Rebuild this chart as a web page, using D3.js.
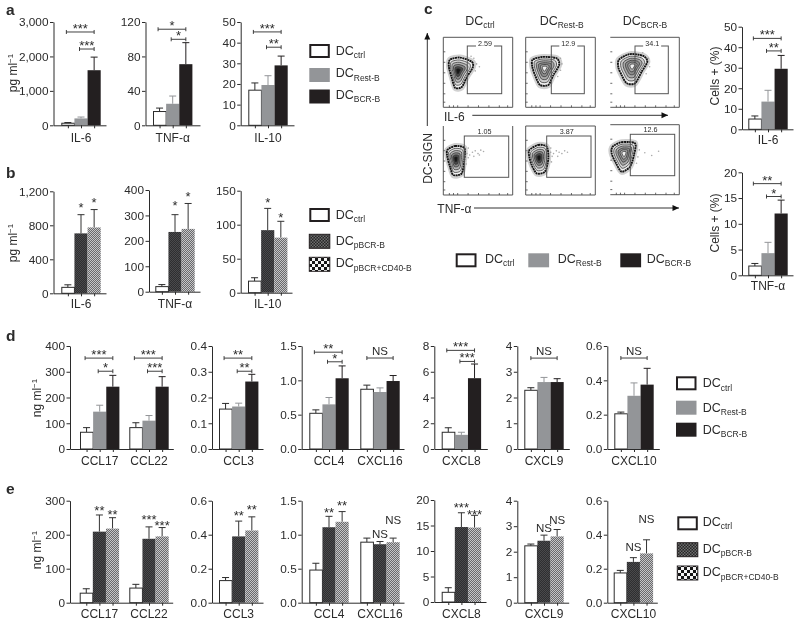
<!DOCTYPE html>
<html><head><meta charset="utf-8">
<script src="https://cdnjs.cloudflare.com/ajax/libs/d3/7.8.5/d3.min.js"></script>
<style>
html,body{margin:0;padding:0;background:#fff}
svg{display:block;filter:blur(0.35px)}
text{font-family:"Liberation Sans",Arial,sans-serif;fill:#2b2b2b}
</style></head><body><div id="chart"></div>
<script>
// ---- values ----
const a_IL6=[60,200,1600], a_IL6_top=[80,240,1980];
const a_TNF=[16,25,71], a_TNF_top=[20,34,96];
const a_IL10=[17,19.5,29], a_IL10_top=[20.5,24,33.5];
const b_IL6=[70,705,775], b_IL6_top=[100,925,985];
const b_TNF=[20,235,247], b_TNF_top=[28,303,347];
const b_IL10=[17,92,81], b_IL10_top=[22,124,105];
const c_IL6=[5,13.5,29.5], c_IL6_top=[6.5,19,36];
const c_TNF=[1.8,4.3,12], c_TNF_top=[2.3,6.4,14.6];
const d_CCL17=[65,145,242], d_CCL17_top=[83,170,286];
const d_CCL22=[83,110,242], d_CCL22_top=[102,130,281];
const d_CCL3=[.155,.165,.262], d_CCL3_top=[.177,.178,.29];
const d_CCL4=[.52,.65,1.03], d_CCL4_top=[.57,.75,1.21];
const d_CXCL16=[.87,.83,.99], d_CXCL16_top=[.93,.89,1.07];
const d_CXCL8=[1.3,1.1,5.5], d_CXCL8_top=[1.65,1.3,6.6];
const d_CXCL9=[2.28,2.6,2.6], d_CXCL9_top=[2.38,2.78,2.73];
const d_CXCL10=[.205,.31,.375], d_CXCL10_top=[.215,.385,.47];
const e_CCL17=[28,209,218], e_CCL17_top=[41,258,250];
const e_CCL22=[43,188,195], e_CCL22_top=[54,223,221];
const e_CCL3=[.13,.39,.425], e_CCL3_top=[.148,.48,.505];
const e_CCL4=[.48,1.11,1.19], e_CCL4_top=[.58,1.27,1.34];
const e_CXCL16=[.89,.86,.89], e_CXCL16_top=[.95,.9,.95];
const e_CXCL8=[1.9,14.7,14.6], e_CXCL8_top=[2.8,17.5,17];
const e_CXCL9=[2.23,2.43,2.6], e_CXCL9_top=[2.3,2.65,2.87];
const e_CXCL10=[.175,.24,.29], e_CXCL10_top=[.19,.265,.37];

const legendRest=[["DC","ctrl"],["DC","Rest-B"],["DC","BCR-B"]];
const legendPBCR=[["DC","ctrl"],["DC","pBCR-B"],["DC","pBCR+CD40-B"]];
const flowTitles=[["DC","ctrl"],["DC","Rest-B"],["DC","BCR-B"]];
const flowGateLabels=["2.59","12.9","34.1","1.05","3.87","12.6"];

// ---- chart table: [group label, values, error tops]; brackets: [from bar, to bar, y value, text]; notes: [bar, y value, text] ----
const charts=[
{id:"a1",kind:"rest",fmt:",",ticks:[0,1000,2000,3000],groups:[["IL-6",a_IL6,a_IL6_top]],brackets:[[0,2,2710,"***"],[1,2,2215,"***"]]},
{id:"a2",kind:"rest",fmt:"",ticks:[0,40,80,120],groups:[["TNF-α",a_TNF,a_TNF_top]],brackets:[[0,2,111.6,"*"],[1,2,99.9,"*"]]},
{id:"a3",kind:"rest",fmt:"",ticks:[0,10,20,30,40,50],groups:[["IL-10",a_IL10,a_IL10_top]],brackets:[[0,2,45.2,"***"],[1,2,37.8,"**"]]},
{id:"b1",kind:"pbcr",fmt:",",ticks:[0,400,800,1200],groups:[["IL-6",b_IL6,b_IL6_top]],notes:[[1,1039,"*"],[2,1106,"*"]]},
{id:"b2",kind:"pbcr",fmt:"",ticks:[0,100,200,300,400],groups:[["TNF-α",b_TNF,b_TNF_top]],notes:[[1,351,"*"],[2,387,"*"]]},
{id:"b3",kind:"pbcr",fmt:"",ticks:[0,50,100,150],groups:[["IL-10",b_IL10,b_IL10_top]],notes:[[1,137,"*"],[2,115,"*"]]},
{id:"c1",kind:"rest",fmt:"",ticks:[0,10,20,30,40,50],groups:[["IL-6",c_IL6,c_IL6_top]],brackets:[[0,2,44.3,"***"],[1,2,38.2,"**"]]},
{id:"c2",kind:"rest",fmt:"",ticks:[0,5,10,15,20],groups:[["TNF-α",c_TNF,c_TNF_top]],brackets:[[0,2,17.8,"**"],[1,2,15.3,"*"]]},
{id:"d1",kind:"rest",fmt:"",ticks:[0,100,200,300,400],groups:[["CCL17",d_CCL17,d_CCL17_top],["CCL22",d_CCL22,d_CCL22_top]],brackets:[[0,2,353,"***"],[1,2,302,"*"],[3,5,353,"***"],[4,5,302,"***"]]},
{id:"d2",kind:"rest",fmt:".1f",ticks:[0,.1,.2,.3,.4],groups:[["CCL3",d_CCL3,d_CCL3_top]],brackets:[[0,2,.353,"**"],[1,2,.302,"**"]]},
{id:"d3",kind:"rest",fmt:".1f",ticks:[0,.5,1,1.5],groups:[["CCL4",d_CCL4,d_CCL4_top],["CXCL16",d_CXCL16,d_CXCL16_top]],brackets:[[0,2,1.41,"**"],[1,2,1.27,"*"],[3,5,1.325,"NS"]]},
{id:"d4",kind:"rest",fmt:"",ticks:[0,2,4,6,8],groups:[["CXCL8",d_CXCL8,d_CXCL8_top]],brackets:[[0,2,7.66,"***"],[1,2,6.8,"***"]]},
{id:"d5",kind:"rest",fmt:"",ticks:[0,1,2,3,4],groups:[["CXCL9",d_CXCL9,d_CXCL9_top]],brackets:[[0,2,3.53,"NS"]]},
{id:"d6",kind:"rest",fmt:".1f",ticks:[0,.2,.4,.6],groups:[["CXCL10",d_CXCL10,d_CXCL10_top]],brackets:[[0,2,.53,"NS"]]},
{id:"e1",kind:"pbcr",fmt:"",ticks:[0,100,200,300],groups:[["CCL17",e_CCL17,e_CCL17_top],["CCL22",e_CCL22,e_CCL22_top]],notes:[[1,281,"**"],[2,269,"**"],[4,255,"***"],[5,237,"***"]]},
{id:"e2",kind:"pbcr",fmt:".1f",ticks:[0,.2,.4,.6],groups:[["CCL3",e_CCL3,e_CCL3_top]],notes:[[1,.532,"**"],[2,.565,"**"]]},
{id:"e3",kind:"pbcr",fmt:".1f",ticks:[0,.5,1,1.5],groups:[["CCL4",e_CCL4,e_CCL4_top],["CXCL16",e_CXCL16,e_CXCL16_top]],notes:[[1,1.373,"**"],[2,1.48,"**"],[4,1.015,"NS"],[5,1.21,"NS"]]},
{id:"e4",kind:"pbcr",fmt:"",ticks:[0,5,10,15,20],groups:[["CXCL8",e_CXCL8,e_CXCL8_top]],notes:[[1,19.07,"***"],[2,17.84,"***"]]},
{id:"e5",kind:"pbcr",fmt:"",ticks:[0,1,2,3,4],groups:[["CXCL9",e_CXCL9,e_CXCL9_top]],notes:[[1,2.94,"NS"],[2,3.23,"NS"]]},
{id:"e6",kind:"pbcr",fmt:".1f",ticks:[0,.2,.4,.6],groups:[["CXCL10",e_CXCL10,e_CXCL10_top]],notes:[[1,.33,"NS"],[2,.494,"NS"]]}
];

// ---- flow cytometry outlines, read in percent of each plot frame ----
const flowOutlines=[
[[9.7,32],[24,29],[41,35],[42.4,43],[33.8,57],[26.6,71],[17,72],[12,57],[8,42]],
[[10,32],[25,28],[44.5,30],[48,39.5],[39.7,54],[32.5,68],[20.5,68],[13.4,54],[9.5,42]],
[[12.6,32],[28.5,24],[47.8,26.7],[53.6,35],[45.5,49],[35.8,65.7],[23.8,65.7],[16.5,54],[11.7,43]],
[[5.8,35],[16.9,29],[30.3,32],[30.3,49],[26.5,68.6],[14.4,71],[9.7,59],[5.8,44.5]],
[[5.2,35],[18,27.5],[30.2,30],[32.5,47],[27.7,66],[15.8,68.6],[8.6,56.5],[5.2,44.5]],
[[3.5,31.4],[16.5,25],[35.8,26.7],[34.3,43],[28.6,60],[16.5,67],[8.3,55],[2,41]]
];
const flowCores=[[21,48],[27,44],[32,41],[18,48],[19,46],[20,41]];
const flowFaintDots=[
[[48,38],[52,42],[46,48],[44,30],[40,27]],
[[50,30],[52,38],[50,47],[46,56]],
[[55,30],[57,42],[52,52],[47,22]],
[[34,40],[38,42],[42,38],[46,36],[50,40],[54,35],[58,37],[36,46],[44,44],[52,42],[33,55],[36,32]],
[[36,38],[40,40],[44,36],[48,38],[52,40],[56,36],[60,38],[38,44],[46,44],[36,32],[37,52]],
[[38,30],[42,36],[40,46],[50,40],[60,44],[38,55],[70,38]]
];

// ---- layout (pixels) ----
const layout={
a1:{x0:53.5,x1:106,top:22,base:125.3,left:[61.3],labelY:141.7},
a2:{x0:145.5,x1:200,top:22,base:125.3,left:[153],labelY:141.7},
a3:{x0:240.7,x1:294,top:22,base:125.3,left:[248.3],labelY:141.7},
b1:{x0:53.5,x1:106,top:191.3,base:293.3,left:[61.3],labelY:308.3},
b2:{x0:149,x1:200,top:190,base:291.7,left:[155.3],labelY:308.3},
b3:{x0:240.7,x1:292,top:190.7,base:292.7,left:[248],labelY:308.3},
c1:{x0:742,x1:793,top:26.7,base:129.3,left:[748.3],labelY:144},
c2:{x0:742,x1:793,top:172.3,base:275.3,left:[748.3],labelY:290},
d1:{x0:70,x1:173.3,top:346,base:449,left:[80,129.3],labelY:465},
d2:{x0:212,x1:263,top:346,base:449,left:[219],labelY:465},
d3:{x0:301.7,x1:404,top:346,base:449,left:[309.3,360.3],labelY:465},
d4:{x0:434.3,x1:487.3,top:346,base:449,left:[441.7],labelY:465},
d5:{x0:517.3,x1:569.3,top:346,base:449,left:[524.3],labelY:465},
d6:{x0:607.3,x1:659.3,top:346,base:449,left:[614.3],labelY:465},
e1:{x0:70,x1:172.7,top:500.7,base:602.7,left:[79.7,129.3],labelY:618},
e2:{x0:212,x1:263,top:500.7,base:602.7,left:[219],labelY:618},
e3:{x0:301.7,x1:404,top:500.7,base:602.7,left:[309.3,360.3],labelY:618},
e4:{x0:434.3,x1:486,top:500,base:602,left:[441.7],labelY:618},
e5:{x0:517.3,x1:568.7,top:500.7,base:602.7,left:[524.3],labelY:618},
e6:{x0:607.3,x1:657.3,top:500.7,base:602.7,left:[613.7],labelY:618}
};
const flowLayout=[
{x:443.3,y:37.3,w:69.4,h:70,gate:[467.3,46,501.7,93.7],ly:46,sides:["top","right","bottom","left"]},
{x:525.7,y:37.3,w:69.6,h:70,gate:[551.3,46,584.3,93.7],ly:46,sides:["top","right","bottom","left"]},
{x:610.3,y:37.3,w:69,h:70,gate:[635,46,668.3,93.7],ly:46,sides:["top","right","bottom"]},
{x:443.3,y:126,w:69.4,h:69,gate:[464.3,136,508.7,177.3],ly:133.5,sides:["right","bottom","left"]},
{x:525.7,y:126,w:69.6,h:69,gate:[546.7,136,591,177.3],ly:133.5,sides:["top","right","bottom","left"]},
{x:610.3,y:124.7,w:69,h:70,gate:[630.3,134.3,674.7,175.7],ly:132,sides:["top","right","bottom"]}
];

// ---- drawing ----
const svg=d3.select("#chart").append("svg").attr("width",800).attr("height",624);
const DARK="#231f20", GREY="#939598", INK="#2b2b2b";
const defs=svg.append("defs");
function pattern(id,size,bg,cells,fg){
  const p=defs.append("pattern").attr("id",id).attr("width",size).attr("height",size).attr("patternUnits","userSpaceOnUse");
  p.append("rect").attr("width",size).attr("height",size).attr("fill",bg);
  cells.forEach(c=>p.append("rect").attr("x",c[0]).attr("y",c[1]).attr("width",c[2]).attr("height",c[2]).attr("fill",fg));
}
pattern("pDark",2,"#2e2e30",[[0,0,1],[1,1,1]],"#4a4a4c");
pattern("pLight",2,"#6a6a6c",[[0,0,1],[1,1,1]],"#c6c6c8");
pattern("pDarkLeg",3,"#262626",[[0,0,1.5],[1.5,1.5,1.5]],"#6e6e6e");
pattern("pLightLeg",6,"#151515",[[0,0,3],[3,3,3]],"#f4f4f4");

const fills={rest:["#fff",GREY,DARK],pbcr:["#fff","url(#pDark)","url(#pLight)"]};
const strokes={rest:[INK,"none","none"],pbcr:[INK,"none","none"]};
const errColors={rest:[INK,GREY,DARK],pbcr:[INK,"#333","#333"]};
const fmtFor=f=>f?d3.format(f):d3.format("d");
const BAND=39.4;

function subText(g,x,y,pair,size,anchor){
  const t=g.append("text").attr("x",x).attr("y",y).attr("font-size",size).attr("text-anchor",anchor||"start");
  t.append("tspan").text(pair[0]);
  t.append("tspan").attr("dy",size*0.27).attr("font-size",size*0.68).text(pair[1]);
  return t;
}
function sigText(g,x,y,text){
  const ns=text==="NS";
  g.append("text").attr("x",x).attr("y",y).attr("text-anchor","middle")
   .attr("font-size",ns?11.5:13).attr("letter-spacing",ns?0:0).text(text);
}

charts.forEach(c=>{
  const L=layout[c.id], g=svg.append("g");
  const y=d3.scaleLinear().domain([0,d3.max(c.ticks)]).range([L.base,L.top]);
  const xAxisScale=d3.scaleLinear().domain([L.x0,L.x1]).range([L.x0,L.x1]);
  const centers=[];
  c.groups.forEach((gr,gi)=>{
    const band=d3.scaleBand().domain([0,1,2]).range([L.left[gi],L.left[gi]+BAND]);
    gr[1].forEach((v,i)=>{
      const bx=band(i), bw=band.bandwidth(), cx=bx+bw/2;
      centers.push(cx);
      const col=errColors[c.kind][i];
      g.append("line").attr("x1",cx).attr("x2",cx).attr("y1",y(v)).attr("y2",y(gr[2][i])).attr("stroke",col).attr("stroke-width",1);
      g.append("line").attr("x1",cx-3.5).attr("x2",cx+3.5).attr("y1",y(gr[2][i])).attr("y2",y(gr[2][i])).attr("stroke",col).attr("stroke-width",1);
      g.append("rect").attr("x",bx+(i===0?0.5:0)).attr("y",y(v)).attr("width",bw-(i===0?0.5:0)).attr("height",y(0)-y(v))
       .attr("fill",fills[c.kind][i]).attr("stroke",strokes[c.kind][i]).attr("stroke-width",1);
    });
    g.append("text").attr("x",L.left[gi]+BAND/2).attr("y",L.labelY).attr("text-anchor","middle").attr("font-size",12).text(gr[0]);
  });
  const yAxis=d3.axisLeft(y).tickValues(c.ticks).tickFormat(fmtFor(c.fmt)).tickSize(3.5).tickPadding(1.5).tickSizeOuter(0);
  const ga=g.append("g").attr("transform",`translate(${L.x0},0)`).call(yAxis);
  ga.selectAll("text").attr("font-size",11.8).attr("font-family",'"Liberation Sans",Arial,sans-serif');
  const xAxis=d3.axisBottom(xAxisScale).tickValues(centers).tickFormat("").tickSize(3).tickSizeOuter(0);
  g.append("g").attr("transform",`translate(0,${L.base})`).call(xAxis);
  g.selectAll(".domain,.tick line").attr("stroke",INK).attr("stroke-width",1);
  (c.brackets||[]).forEach(b=>{
    const x1=centers[b[0]]-(b[3]==="NS"?0:1.5), x2=centers[b[1]], yy=y(b[2]);
    g.append("path").attr("d",`M${x1},${yy-2}V${yy+2}M${x1},${yy}H${x2}M${x2},${yy-2}V${yy+2}`).attr("fill","none").attr("stroke",INK).attr("stroke-width",0.9);
    sigText(g,(x1+x2)/2,b[3]==="NS"?yy-3.5:yy+1,b[3]);
  });
  (c.notes||[]).forEach(n=>{
    sigText(g,centers[n[0]],y(n[1])+(n[2]==="NS"?4:7.5),n[2]);
  });
});

// panel letters
[["a",6,14.5],["b",6,178],["c",424,13.5],["d",6,341],["e",6,494]].forEach(p=>
  svg.append("text").attr("x",p[1]).attr("y",p[2]).attr("font-size",15.5).attr("font-weight","700").attr("fill","#111").text(p[0]));

// y titles
function yTitle(cx,cy,parts,size){
  const t=svg.append("text").attr("transform",`translate(${cx},${cy}) rotate(-90)`).attr("text-anchor","middle").attr("font-size",size||12);
  t.append("tspan").text(parts[0]);
  if(parts[1]) t.append("tspan").attr("dy",-4).attr("font-size",8).text(parts[1]);
}
yTitle(17,73,["pg ml","−1"]);
yTitle(17,243,["pg ml","−1"]);
yTitle(41,398,["ng ml","−1"]);
yTitle(41,550,["ng ml","−1"]);
yTitle(719,76,["Cells + (%)"]);
yTitle(719,223,["Cells + (%)"]);

// legends
function legend(x,ys,textX,textYs,names,kinds){
  names.forEach((n,i)=>{
    const k=kinds[i];
    svg.append("rect").attr("x",x+(k==="ctrl"?1:0)).attr("y",ys[i]+(k==="ctrl"?1:0)).attr("width",20.5-(k==="ctrl"?2:0)).attr("height",14-(k==="ctrl"?2:0))
      .attr("fill",{ctrl:"#fff",rest:GREY,bcr:DARK,pd:"url(#pDarkLeg)",pl:"url(#pLightLeg)"}[k])
      .attr("stroke",k==="ctrl"||k==="pd"||k==="pl"?DARK:"none").attr("stroke-width",k==="ctrl"?2:1);
    subText(svg,textX,textYs[i],n,12.5);
  });
}
legend(309.3,[44,68,89.5],335.7,[55,77.3,98.7],legendRest,["ctrl","rest","bcr"]);
legend(309.3,[208,234.3,257.3],335.7,[219,245,267.3],legendPBCR,["ctrl","pd","pl"]);
legend(676,[376.3,400.7,422.7],702.7,[387.3,411.7,434],legendRest,["ctrl","rest","bcr"]);
legend(677.3,[516.3,542.7,566],702.7,[526,552.7,576.3],legendPBCR,["ctrl","pd","pl"]);
// c legend (horizontal)
[[455.7,485,"ctrl"],[528.3,557.7,"rest"],[620.3,646.7,"bcr"]].forEach((l,i)=>{
  const k=l[2];
  svg.append("rect").attr("x",l[0]+(k==="ctrl"?1:0)).attr("y",253.3+(k==="ctrl"?1:0)).attr("width",20.8-(k==="ctrl"?2:0)).attr("height",14-(k==="ctrl"?2:0))
    .attr("fill",{ctrl:"#fff",rest:GREY,bcr:DARK}[k]).attr("stroke",k==="ctrl"?DARK:"none").attr("stroke-width",2);
  subText(svg,l[1],262.5,legendRest[i],12.5);
});

// flow titles
[480,561.7,645].forEach((x,i)=>subText(svg,x,25,flowTitles[i],12.5,"middle"));

// flow plots
const levels=[1,.82,.65,.48,.32,.17];
const shadeDark=["#f2f2f2","#dadada","#b4b4b4","#858585","#4a4a4a","#161616"];
const shadeLight=["#f0f0f0","#cfcfcf","#a8a8a8","#8c8c8c","#a8a8a8","#f0f0f0"];
const lightCore=[false,true,true,false,false,true];
flowLayout.forEach((F,i)=>{
  const g=svg.append("g");
  const sx=d3.scaleLinear().domain([0,100]).range([F.x,F.x+F.w]);
  const sy=d3.scaleLinear().domain([0,100]).range([F.y,F.y+F.h]);
  const x0=F.x,x1=F.x+F.w,y0=F.y,y1=F.y+F.h;
  const sideD={top:`M${x0},${y0}H${x1}`,right:`M${x1},${y0}V${y1}`,bottom:`M${x0},${y1}H${x1}`,left:`M${x0},${y0}V${y1}`};
  g.append("path").attr("d",F.sides.map(s=>sideD[s]).join("")).attr("fill","none").attr("stroke","#555").attr("stroke-width",1);
  // frame ticks
  g.append("g").attr("transform",`translate(${x0},0)`).call(d3.axisRight(sy).tickValues([20,35,50,65,80,92]).tickSize(2).tickFormat("")).select(".domain").remove();
  g.append("g").attr("transform",`translate(0,${y1})`).call(d3.axisTop(sx).tickValues([8,14,20,35,50,65,80,92]).tickSize(2).tickFormat("")).select(".domain").remove();
  g.selectAll(".tick line").attr("stroke","#444").attr("stroke-width",.8);
  // faint events
  g.selectAll("circle.d").data(flowFaintDots[i]).enter().append("circle").attr("cx",d=>sx(d[0])).attr("cy",d=>sy(d[1])).attr("r",.8).attr("fill","#aaa");
  // contours
  const core=flowCores[i], outline=flowOutlines[i];
  const line=d3.line().curve(d3.curveCardinalClosed.tension(.2)).x(d=>sx(d[0])).y(d=>sy(d[1]));
  const scaled=k=>outline.map(p=>[core[0]+(p[0]-core[0])*k,core[1]+(p[1]-core[1])*k]);
  g.append("path").attr("d",line(scaled(1.06))).attr("fill","none").attr("stroke","#999").attr("stroke-width",4.5).attr("stroke-opacity",.45);
  const shades=lightCore[i]?shadeLight:shadeDark;
  levels.forEach((k,j)=>{
    g.append("path").attr("d",line(scaled(k))).attr("fill",shades[j])
     .attr("stroke",j===0?"#141414":"#2a2a2a").attr("stroke-width",j===0?1.9:.7).attr("stroke-dasharray",j===0?"2 .5":null);
  });
  // gate
  const [a,b,c,d]=F.gate;
  g.append("rect").attr("x",a).attr("y",b).attr("width",c-a).attr("height",d-b).attr("fill","none").attr("stroke","#555").attr("stroke-width",1);
  const mid=(i<3)?(a+c)/2+.5:(a+c)/2;
  const lab=flowGateLabels[i];
  if(i<3) g.append("rect").attr("x",mid-9).attr("y",b-1.5).attr("width",18).attr("height",3).attr("fill","#fff");
  g.append("text").attr("x",i<3?mid:mid-2).attr("y",F.ly).attr("text-anchor","middle").attr("font-size",7.2).attr("fill","#444").text(lab);
});

// flow axes
function arrow(x1,y1,x2,y2,head){
  svg.append("line").attr("x1",x1).attr("y1",y1).attr("x2",x2).attr("y2",y2).attr("stroke","#333").attr("stroke-width",1);
  const ang=Math.atan2(y2-y1,x2-x1);
  const pts=[[0,0],[-head,-head/2.2],[-head,head/2.2]].map(p=>[x2+p[0]*Math.cos(ang)-p[1]*Math.sin(ang),y2+p[0]*Math.sin(ang)+p[1]*Math.cos(ang)]);
  svg.append("polygon").attr("points",pts.map(p=>p.join(",")).join(" ")).attr("fill","#111");
}
arrow(427.3,126,427.3,33,6.5);
arrow(472.3,115.3,668,115.3,6.5);
arrow(474,208,679,208,6.5);
svg.append("text").attr("x",444).attr("y",120.5).attr("font-size",12).text("IL-6");
svg.append("text").attr("x",437.3).attr("y",212.5).attr("font-size",12).text("TNF-α");
svg.append("text").attr("transform","translate(431.5,158.5) rotate(-90)").attr("text-anchor","middle").attr("font-size",12).text("DC-SIGN");
</script></body></html>
